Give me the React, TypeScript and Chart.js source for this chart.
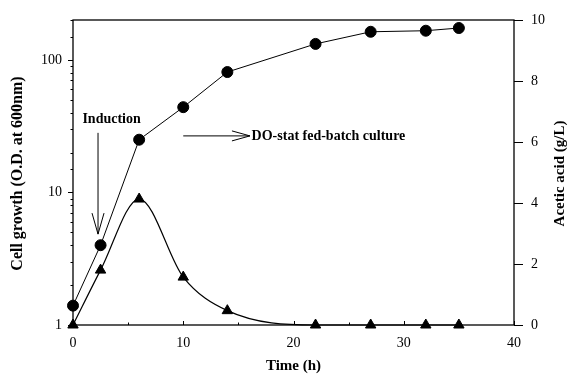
import React, { useEffect, useRef } from 'react';
import { Chart, registerables } from 'chart.js';

Chart.register(...registerables);

const timeCell = [0, 2.5, 6, 10, 14, 22, 27, 32, 35];
const cellGrowth = [1.4, 4.0, 25, 44, 81, 132, 163, 166, 174];
const timeAcetic = [0, 2.5, 6, 10, 14, 22, 27, 32, 35];
const aceticAcid = [0, 1.8, 4.13, 1.57, 0.47, 0, 0, 0, 0];
const xTickValues = [0, 10, 20, 30, 40];
const leftTickLabels = [1, 10, 100];
const rightTickValues = [0, 2, 4, 6, 8, 10];

const xTitle = 'Time (h)';
const leftTitle = 'Cell growth (O.D. at 600nm)';
const rightTitle = 'Acetic acid (g/L)';
const inductionText = 'Induction';
const fedBatchText = 'DO-stat fed-batch culture';

const SERIF = "'Liberation Serif', 'Times New Roman', serif";

const decorPlugin = {
  id: 'decor',
  afterDraw(chart: any) {
    const { ctx, chartArea: a, scales } = chart;
    const x = scales.x;
    const y = scales.y;
    const y1 = scales.y1;
    ctx.save();
    ctx.strokeStyle = '#000';
    ctx.fillStyle = '#000';
    ctx.lineWidth = 1.3;
    ctx.strokeRect(a.left, a.top, a.right - a.left, a.bottom - a.top);

    ctx.lineWidth = 1;
    ctx.beginPath();
    y.ticks.forEach((t: any) => {
      const lg = Math.log10(t.value);
      const major = Math.abs(lg - Math.round(lg)) < 1e-6;
      const py = Math.round(y.getPixelForValue(t.value)) + 0.5;
      ctx.moveTo(a.left, py);
      ctx.lineTo(a.left - (major ? 5 : 2.5), py);
    });
    for (let v = 0; v <= 40; v += 5) {
      const px = Math.round(x.getPixelForValue(v)) + 0.5;
      const major = v % 10 === 0;
      ctx.moveTo(px, a.bottom);
      ctx.lineTo(px, a.bottom - (major ? 4 : 2.5));
    }
    rightTickValues.forEach((v) => {
      const py = Math.round(y1.getPixelForValue(v)) + 0.5;
      ctx.moveTo(a.right, py);
      ctx.lineTo(a.right + 9, py);
    });
    ctx.stroke();

    const ax = x.getPixelForValue(2.27);
    const aTop = y1.getPixelForValue(6.3);
    const aTip = y1.getPixelForValue(2.98);
    ctx.beginPath();
    ctx.moveTo(ax, aTop);
    ctx.lineTo(ax, aTip);
    ctx.moveTo(ax - 6, aTip - 21);
    ctx.lineTo(ax, aTip);
    ctx.lineTo(ax + 6, aTip - 21);
    ctx.stroke();

    const hy = y1.getPixelForValue(6.2);
    const hx0 = x.getPixelForValue(10);
    const hx1 = x.getPixelForValue(16.05);
    ctx.beginPath();
    ctx.moveTo(hx0, hy);
    ctx.lineTo(hx1, hy);
    ctx.moveTo(hx1 - 18, hy - 5);
    ctx.lineTo(hx1, hy);
    ctx.lineTo(hx1 - 18, hy + 5);
    ctx.stroke();

    ctx.font = `bold 14px ${SERIF}`;
    ctx.textBaseline = 'middle';
    ctx.textAlign = 'center';
    ctx.fillText(inductionText, x.getPixelForValue(3.5), y1.getPixelForValue(6.75));
    ctx.textAlign = 'left';
    ctx.fillText(fedBatchText, x.getPixelForValue(16.2), hy);

    ctx.textAlign = 'center';
    ctx.font = `bold 15px ${SERIF}`;
    ctx.fillText(xTitle, (a.left + a.right) / 2, 366);
    const cy = (a.top + a.bottom) / 2 + 1;
    ctx.save();
    ctx.font = `bold 16px ${SERIF}`;
    ctx.translate(18, cy);
    ctx.rotate(-Math.PI / 2);
    ctx.fillText(leftTitle, 0, 0);
    ctx.restore();
    ctx.save();
    ctx.font = `bold 15px ${SERIF}`;
    ctx.translate(560, cy);
    ctx.rotate(-Math.PI / 2);
    ctx.fillText(rightTitle, 0, 0);
    ctx.restore();
    ctx.restore();
  },
};

const hiddenGrid = (len: number) => ({
  display: true,
  drawOnChartArea: false,
  drawTicks: true,
  tickLength: len,
  color: 'rgba(0,0,0,0)',
  tickColor: 'rgba(0,0,0,0)',
});

export default function App() {
  const ref = useRef<HTMLCanvasElement | null>(null);
  useEffect(() => {
    if (!ref.current) return;
    const tickFont = { family: SERIF, size: 14 };
    const chart = new Chart(ref.current, {
      type: 'line',
      data: {
        datasets: [
          {
            label: 'Cell growth',
            data: timeCell.map((t, i) => ({ x: t, y: cellGrowth[i] })),
            yAxisID: 'y',
            borderColor: '#000',
            backgroundColor: '#000',
            borderWidth: 1,
            pointRadius: 5.5,
            pointStyle: 'circle',
            pointBorderWidth: 1,
            tension: 0,
            clip: false,
          },
          {
            label: 'Acetic acid',
            data: timeAcetic.map((t, i) => ({ x: t, y: aceticAcid[i] })),
            yAxisID: 'y1',
            borderColor: '#000',
            backgroundColor: '#000',
            borderWidth: 1.2,
            pointRadius: 6,
            pointStyle: 'triangle',
            pointBorderWidth: 1,
            cubicInterpolationMode: 'monotone',
            clip: false,
          },
        ],
      },
      options: {
        responsive: true,
        maintainAspectRatio: false,
        animation: false,
        layout: { padding: { top: 20, left: 0, right: 0, bottom: 0 } },
        plugins: { legend: { display: false }, tooltip: { enabled: false } },
        scales: {
          x: {
            type: 'linear',
            min: 0,
            max: 40,
            grid: hiddenGrid(4),
            border: { display: false },
            afterBuildTicks: (s: any) => {
              s.ticks = xTickValues.map((v) => ({ value: v }));
            },
            ticks: { color: '#000', font: tickFont, padding: 6, maxRotation: 0 },
            afterFit: (s: any) => {
              s.height = 50;
            },
          },
          y: {
            type: 'logarithmic',
            position: 'left',
            min: 1,
            max: 200,
            grid: hiddenGrid(11),
            border: { display: false },
            ticks: {
              color: '#000',
              font: tickFont,
              padding: 0,
              autoSkip: false,
              callback: (v: any) => (leftTickLabels.includes(Number(v)) ? String(v) : ''),
            },
            afterFit: (s: any) => {
              s.width = 73;
            },
          },
          y1: {
            type: 'linear',
            position: 'right',
            min: 0,
            max: 10,
            grid: hiddenGrid(17),
            border: { display: false },
            afterBuildTicks: (s: any) => {
              s.ticks = rightTickValues.map((v) => ({ value: v }));
            },
            ticks: { color: '#000', font: tickFont, padding: 0 },
            afterFit: (s: any) => {
              s.width = 55;
            },
          },
        },
      },
      plugins: [decorPlugin],
    } as any);
    return () => chart.destroy();
  }, []);
  return (
    <div style={{ position: 'fixed', left: 0, top: 0, width: 569, height: 375, background: '#fff' }}>
      <canvas ref={ref} />
    </div>
  );
}
